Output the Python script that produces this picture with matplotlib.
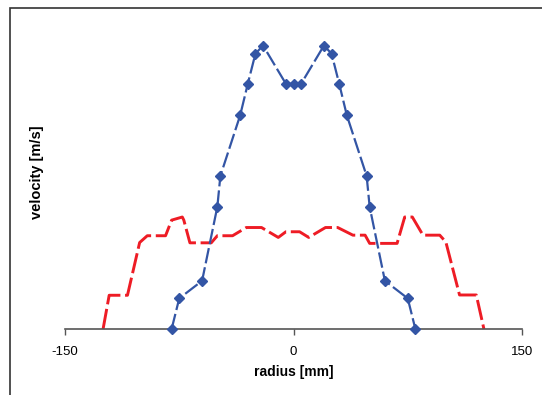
import matplotlib.pyplot as plt
from matplotlib.patches import Rectangle

plt.rcParams['font.family'] = ['Liberation Sans', 'DejaVu Sans']
plt.rcParams['axes.unicode_minus'] = False

# blue series (diamonds)
blue_r = [-80, -75, -60, -50, -48, -35, -30, -25, -20, -5, 0, 5,
          20, 25, 30, 35, 48, 50, 60, 75, 80]
blue_v = [0.0, 0.108, 0.170, 0.431, 0.540, 0.754, 0.865, 0.971, 1.0, 0.865, 0.865, 0.865,
          1.0, 0.971, 0.865, 0.754, 0.540, 0.431, 0.170, 0.108, 0.0]

# red series (no markers)
red_r = [-125, -121, -109, -101, -96, -84, -80, -73, -72, -68, -54, -50, -40, -31, -21,
         -10, -5, 4, 10, 21, 29, 39, 47, 50, 68, 73, 78, 85, 96, 100, 109, 120, 125]
red_v = [0.0, 0.119, 0.119, 0.305, 0.329, 0.329, 0.384, 0.395, 0.384, 0.304, 0.304, 0.329,
         0.329, 0.358, 0.358, 0.323, 0.343, 0.343, 0.323, 0.358, 0.358, 0.331, 0.331,
         0.302, 0.302, 0.395, 0.395, 0.331, 0.331, 0.307, 0.120, 0.120, 0.0]

fig = plt.figure(figsize=(5.42, 3.95), dpi=100)
ax = fig.add_axes([65 / 542, 1 - 329 / 395, 457 / 542, 309 / 395])

ax.plot(red_r, red_v, color='#EE1C25', lw=2.1, linestyle=(0, (7, 1.6)),
        solid_capstyle='butt', clip_on=False, zorder=2)
ax.plot(blue_r, blue_v, color='#3355A5', lw=1.6, linestyle=(0, (7, 1.8)),
        marker='D', markersize=5.5, markerfacecolor='#3355A5', markeredgecolor='#3355A5',
        clip_on=False, zorder=3)

ax.set_xlim(-150, 150)
ax.set_ylim(0, 1.09)
ax.set_xticks([-150, 0, 150])
ax.set_yticks([])
for s in ['top', 'right', 'left']:
    ax.spines[s].set_visible(False)
ax.spines['bottom'].set_color('#555555')
ax.spines['bottom'].set_linewidth(1.2)
ax.tick_params(axis='x', direction='out', length=4, width=1, colors='#555555',
               labelcolor='black', labelsize=9.5, pad=8)
ax.set_xlabel('radius [mm]', fontsize=10, fontweight='bold', labelpad=5)
ax.set_ylabel('velocity [m/s]', fontsize=10.5, fontweight='bold')
ax.yaxis.set_label_coords(-0.047, 0.506)

# outer chart border
fig.add_artist(Rectangle((10 / 542, -0.1), 1.2, 1 - 8 / 395 + 0.1,
                         transform=fig.transFigure, fill=False,
                         edgecolor='#333333', lw=1.2))

fig.savefig('out.png', dpi=100)
